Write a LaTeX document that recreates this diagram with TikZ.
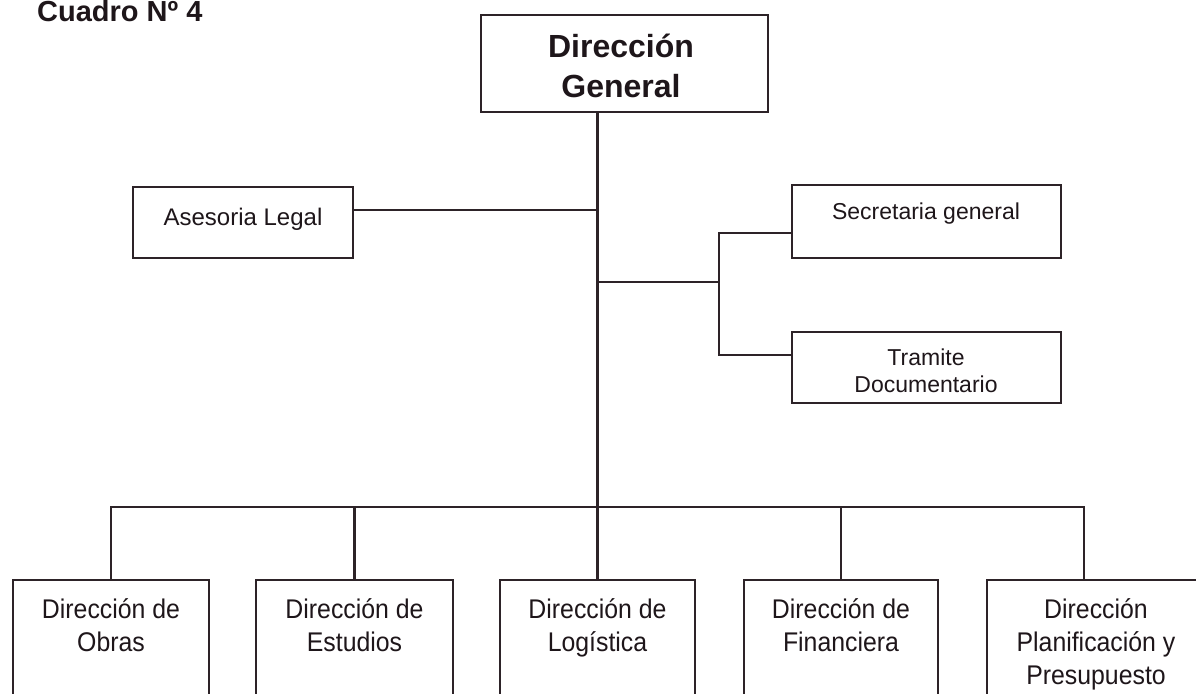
\documentclass[tikz,border=0pt]{standalone}
\usepackage{fontspec}
\setmainfont{Liberation Sans}
\newfontfamily\narrowfont[FakeStretch=0.92]{Liberation Sans}
\definecolor{ln}{RGB}{45,35,40}
\definecolor{tx}{RGB}{30,22,26}
\begin{document}
\begin{tikzpicture}[x=1pt,y=-1pt,
 box/.style={draw=ln, line width=2.5pt, fill=white, inner sep=0pt},
 conn/.style={draw=ln, line width=2.5pt},
 lbl/.style={anchor=base, inner sep=0pt, text=tx},
 topfont/.style={font=\bfseries\fontsize{32}{40}\selectfont},
 midfont/.style={font=\fontsize{23}{27}\selectfont},
 botfont/.style={font=\narrowfont\fontsize{27}{33}\selectfont},
]
\useasboundingbox[fill=white] (0,0) rectangle (1196,693);

% boxes
\node[box, minimum width=287pt, minimum height=97pt] (dg) at (624.5,63.5) {};
\node[box, minimum width=220pt, minimum height=71pt] (al) at (243,222.5) {};
\node[box, minimum width=269pt, minimum height=73pt] (sg) at (926.5,221.5) {};
\node[box, minimum width=269pt, minimum height=71pt] (td) at (926.5,367.5) {};
\node[box, minimum width=196pt, minimum height=180pt] (b1) at (111,670) {};
\node[box, minimum width=197pt, minimum height=180pt] (b2) at (354.5,670) {};
\node[box, minimum width=195pt, minimum height=180pt] (b3) at (597.5,670) {};
\node[box, minimum width=194pt, minimum height=180pt] (b4) at (841,670) {};
\node[box, minimum width=243pt, minimum height=180pt] (b5) at (1108.5,670) {};

% junctions
\coordinate (jal) at (597.5,210);
\coordinate (jr) at (597.5,282);
\coordinate (br) at (719,282);
\coordinate (bsg) at (719,233);
\coordinate (btd) at (719,355);
\coordinate (busL) at (111,507);
\coordinate (busR) at (1084,507);

% connectors
\draw[conn] (dg.south -| b3.north) -- (b3.north);
\draw[conn] (al.east |- jal) -- (jal);
\draw[conn] (jr) -- (br);
\draw[conn] (sg.west |- bsg) -- (bsg) -- (btd) -- (td.west |- btd);
\draw[conn, line cap=rect] (busL) -- (busR);
\draw[conn] (busL) -- (b1.north);
\draw[conn] (b2.north |- busL) -- (b2.north);
\draw[conn] (b4.north |- busL) -- (b4.north);
\draw[conn] (busR) -- (busR |- b5.north);

% texts
\node[lbl, anchor=base west, font=\bfseries\fontsize{29}{34}\selectfont] (title) at (37,21.5) {Cuadro Nº 4};
\node[lbl, topfont] (tdg) at (621,57) {\begin{tabular}[t]{@{}c@{}}Dirección\\General\end{tabular}};
\node[lbl, font=\fontsize{24}{28}\selectfont] (tal) at (243,225) {Asesoria Legal};
\node[lbl, midfont] (tsg) at (926,219) {Secretaria general};
\node[lbl, midfont] (ttd) at (926,365) {\begin{tabular}[t]{@{}c@{}}Tramite\\Documentario\end{tabular}};
\node[lbl, botfont] (t1) at (111,618) {\begin{tabular}[t]{@{}c@{}}Dirección de\\Obras\end{tabular}};
\node[lbl, botfont] (t2) at (354.5,618) {\begin{tabular}[t]{@{}c@{}}Dirección de\\Estudios\end{tabular}};
\node[lbl, botfont] (t3) at (597.5,618) {\begin{tabular}[t]{@{}c@{}}Dirección de\\Logística\end{tabular}};
\node[lbl, botfont] (t4) at (841,618) {\begin{tabular}[t]{@{}c@{}}Dirección de\\Financiera\end{tabular}};
\node[lbl, botfont] (t5) at (1096,618) {\begin{tabular}[t]{@{}c@{}}Dirección\\Planificación y\\Presupuesto\end{tabular}};
\end{tikzpicture}
\end{document}
